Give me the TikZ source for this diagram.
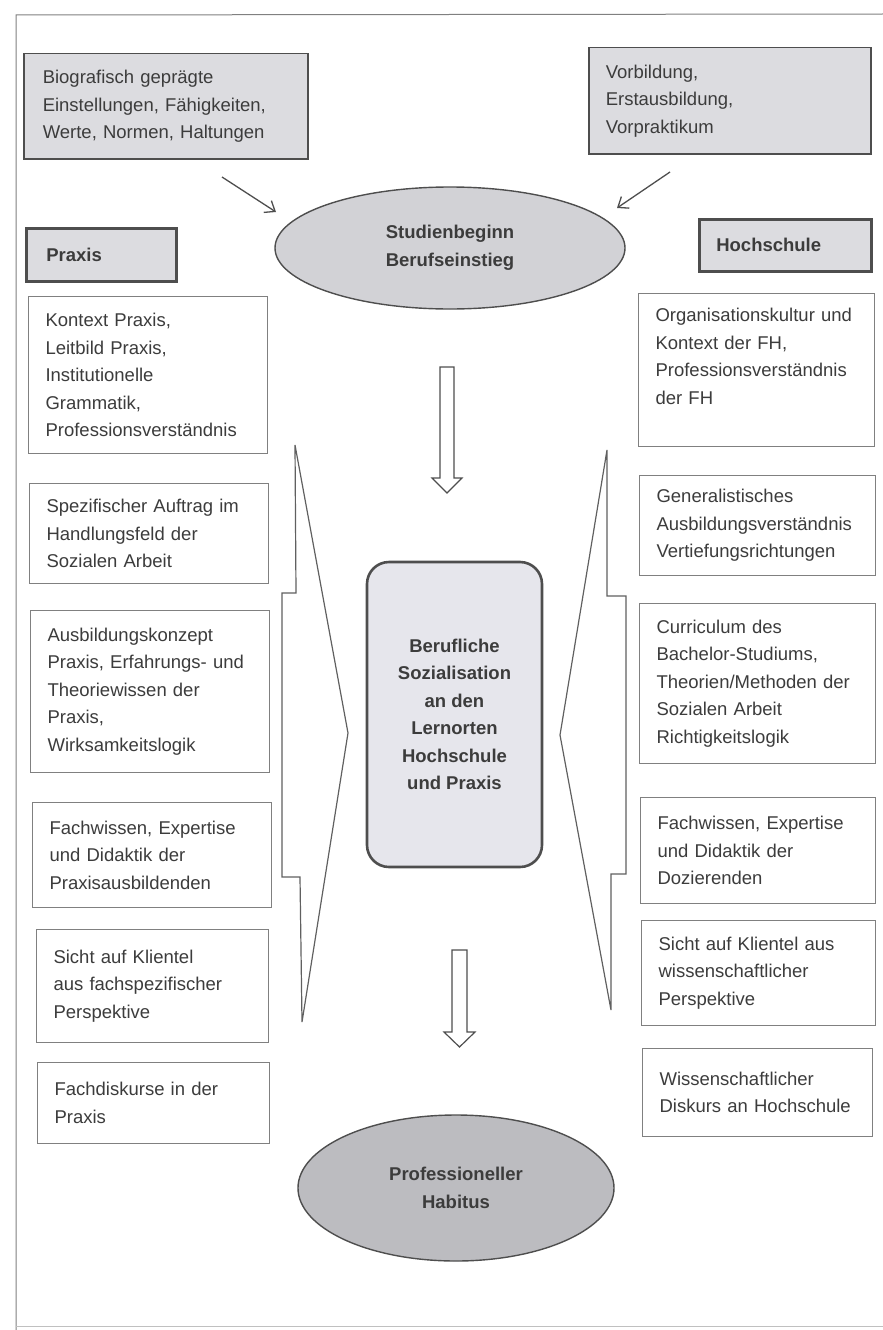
\documentclass[tikz,border=0pt]{standalone}
\usepackage{fontspec}
\setmainfont{Liberation Sans}
\usepackage{tikz}
\usetikzlibrary{shapes.geometric}
\usetikzlibrary{arrows.meta}

\definecolor{txtgray}{HTML}{3C3C3C}
\definecolor{boxgray}{HTML}{808080}
\definecolor{darkline}{HTML}{4E4E4E}
\definecolor{lightfill}{HTML}{DCDCE0}
\definecolor{ovalfill}{HTML}{D2D2D6}
\definecolor{habfill}{HTML}{BCBCC0}
\definecolor{corefill}{HTML}{E6E6EC}
\newcommand{\boxfont}{\fontsize{18.5}{27.5}\selectfont}

\begin{document}
\begin{tikzpicture}[x=1pt,y=-1pt]%[scale=\tikzscale]
  \tikzset{INFO/.style={draw=boxgray, line width=1.1pt, fill=white, anchor=north west, align=left, inner xsep=17pt, text width=205pt, text=txtgray, font=\boxfont} }
  \tikzset{TOPBOX/.style={draw=darkline, line width=1.5pt, fill=lightfill, anchor=north west, align=left, text=txtgray, font=\boxfont} }
  \tikzset{LABEL/.style={draw=darkline, line width=2.6pt, fill=lightfill, anchor=north west, align=left, text=txtgray, font=\boxfont\bfseries} }
  \tikzset{OVAL/.style={ellipse, draw=darkline, line width=1.4pt, align=center, text=txtgray, font=\boxfont\bfseries} }
  \tikzset{THIN/.style={draw=darkline, line width=1.3pt, -{Straight Barb[length=9pt,width=14pt]}} }
  \tikzset{HOLLOW/.style={draw=darkline, line width=1.2pt, fill=white, line join=miter} }
  \tikzset{WEDGE/.style={draw=darkline!90, line width=1.2pt} }

  \useasboundingbox (0,0) rectangle (883,1330);
  \draw[boxgray, line width=1pt] (883,14) -- (16,15) -- (16,1330);
  \draw[boxgray!50, line width=1pt] (16,1326) -- (883,1326);

  \node[TOPBOX, inner xsep=19pt, text width=246pt, minimum height=105pt] (bio) at (23,53)
    {Biografisch geprägte\\Einstellungen, Fähigkeiten,\\Werte, Normen, Haltungen};
  \node[TOPBOX, inner xsep=17pt, text width=248pt, minimum height=106pt] (vor) at (588,47)
    {Vorbildung,\\Erstausbildung,\\Vorpraktikum};

  \node[OVAL, fill=ovalfill, minimum width=350pt, minimum height=122pt] (start) at (450,248) {Studienbeginn\\Berufseinstieg};
  \node[OVAL, fill=habfill, minimum width=316pt, minimum height=146pt] (habitus) at (456,1188) {Professioneller\\Habitus};

  \node[LABEL, inner xsep=20pt, text width=110pt, minimum height=53pt] (praxis) at (25,227) {Praxis};
  \node[LABEL, inner xsep=17pt, text width=138pt, minimum height=52pt] (hochschule) at (698,218) {Hochschule};

  \node[INFO, minimum height=157pt] (p1) at (28,296) {Kontext Praxis,\\Leitbild Praxis,\\Institutionelle\\Grammatik,\\Professionsverständnis};
  \node[INFO, minimum height=100pt] (p2) at (29,483) {Spezifischer Auftrag im\\Handlungsfeld der\\Sozialen Arbeit};
  \node[INFO, minimum height=162pt] (p3) at (30,610) {Ausbildungskonzept\\Praxis, Erfahrungs- und\\Theoriewissen der\\Praxis,\\Wirksamkeitslogik};
  \node[INFO, minimum height=105pt] (p4) at (32,802) {Fachwissen, Expertise\\und Didaktik der\\Praxisausbildenden};
  \node[INFO, minimum height=113pt, text width=198pt] (p5) at (36,929) {Sicht auf Klientel\\aus fachspezifischer\\Perspektive};
  \node[INFO, minimum height=81pt, text width=198pt] (p6) at (37,1062) {Fachdiskurse in der\\Praxis};

  \node[INFO, minimum height=153pt, text width=202pt] (h1) at (638,293) {Organisationskultur und\\Kontext der FH,\\Professionsverständnis\\der FH\\\mbox{}};
  \node[INFO, minimum height=100pt, text width=202pt] (h2) at (639,475) {Generalistisches\\Ausbildungsverständnis\\Vertiefungsrichtungen};
  \node[INFO, minimum height=160pt, text width=202pt] (h3) at (639,603) {Curriculum des\\Bachelor-Studiums,\\Theorien/Methoden der\\Sozialen Arbeit\\Richtigkeitslogik};
  \node[INFO, minimum height=106pt, text width=201pt] (h4) at (640,797) {Fachwissen, Expertise\\und Didaktik der\\Dozierenden};
  \node[INFO, minimum height=105pt, text width=200pt] (h5) at (641,920) {Sicht auf Klientel aus\\wissenschaftlicher\\Perspektive};
  \node[INFO, minimum height=88pt, text width=196pt] (h6) at (642,1048) {Wissenschaftlicher\\Diskurs an Hochschule};

  \node[rectangle, rounded corners=22pt, draw=darkline, line width=2.6pt, fill=corefill, minimum width=175pt, minimum height=305pt, align=center, text=txtgray, font=\boxfont\bfseries] (core) at (454.5,714.5)
    {Berufliche\\Sozialisation\\an den\\Lernorten\\Hochschule\\und Praxis};

  \coordinate (bioarr) at (222,177);
  \coordinate (vorarr) at (670,172);
  \draw[THIN] (bioarr) -- (276,212);
  \draw[THIN] (vorarr) -- (617,208);

  \coordinate (down1) at (447,367);
  \coordinate (down2) at (459.5,950);
  \draw[HOLLOW] (down1) ++(-7,0) -- ++(0,111) -- ++(-8,0) -- ++(15,15) -- ++(15,-15) -- ++(-8,0) -- ++(0,-111) -- cycle;
  \draw[HOLLOW] (down2) ++(-7.5,0) -- ++(0,82) -- ++(-8,0) -- ++(15.5,15) -- ++(15.5,-15) -- ++(-8,0) -- ++(0,-82) -- cycle;

  \draw[WEDGE] (295,445) -- (296,593) -- (282,593) -- (282,877) -- (300,877) -- (302,1022) -- (348,733) -- cycle;
  \draw[WEDGE] (607,450) -- (607,596) -- (626,596) -- (626,874) -- (611,874) -- (611,1010) -- (560,735) -- cycle;
  \end{tikzpicture}
\end{document}
